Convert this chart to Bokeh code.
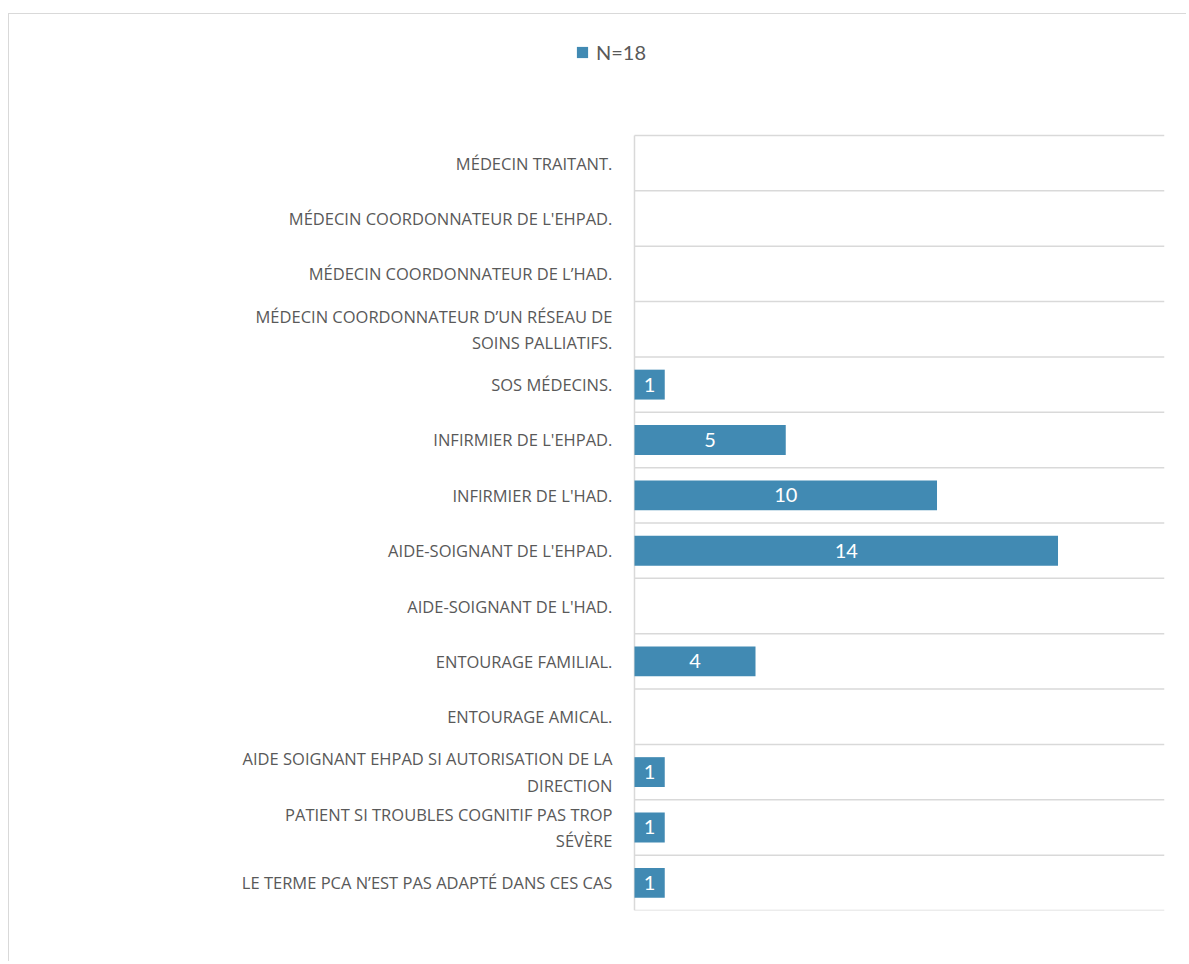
from bokeh.plotting import figure
from bokeh.models import ColumnDataSource, Range1d, Legend, LegendItem
from bokeh.embed import file_html
from bokeh.resources import INLINE
from bokeh.core.properties import value

categories = [
    "MÉDECIN TRAITANT.",
    "MÉDECIN COORDONNATEUR DE L'EHPAD.",
    "MÉDECIN COORDONNATEUR DE L’HAD.",
    "MÉDECIN COORDONNATEUR D’UN RÉSEAU DE\nSOINS PALLIATIFS.",
    "SOS MÉDECINS.",
    "INFIRMIER DE L'EHPAD.",
    "INFIRMIER DE L'HAD.",
    "AIDE-SOIGNANT DE L'EHPAD.",
    "AIDE-SOIGNANT DE L'HAD.",
    "ENTOURAGE FAMILIAL.",
    "ENTOURAGE AMICAL.",
    "AIDE SOIGNANT EHPAD SI AUTORISATION DE LA\nDIRECTION",
    "PATIENT SI TROUBLES COGNITIF PAS TROP\nSÉVÈRE",
    "LE TERME PCA N’EST PAS ADAPTÉ DANS CES CAS",
]
counts = [0, 0, 0, 0, 1, 5, 10, 14, 0, 4, 0, 1, 1, 1]
series_name = "N=18"

BAR = "#418AB3"
GRID = "#d9d9d9"
TXT = "#595959"

n = len(categories)
X_END = 17.52
ypos = [i + 0.5 for i in range(n)]
src = ColumnDataSource(dict(y=ypos, count=counts, label=categories))

lab_idx = [i for i, c in enumerate(counts) if c > 0]
val_src = ColumnDataSource(dict(
    y=[ypos[i] for i in lab_idx],
    mid=[counts[i] / 2 for i in lab_idx],
    txt=[str(counts[i]) for i in lab_idx],
))
bounds = list(range(n + 1))
grid_src = ColumnDataSource(dict(y=bounds))

p = figure(width=1178, height=948, output_backend="svg", toolbar_location=None,
           x_range=Range1d(-20.66, X_END), y_range=Range1d(n, -2.186),
           min_border_left=0, min_border_top=0, min_border_right=23, min_border_bottom=52,
           outline_line_color=None, margin=(13, 0, 0, 8),
           styles={"border-left": "1px solid #d9d9d9", "border-top": "1px solid #d9d9d9"})
p.axis.visible = False
p.grid.visible = False

# category gridlines and axis line
p.segment(x0=0, x1=X_END, y0="y", y1="y", source=grid_src, line_color=GRID, line_width=1.5)
p.segment(x0=0, x1=0, y0=bounds[0], y1=bounds[-1], line_color=GRID, line_width=1.5)

bars = p.hbar(y="y", left=0, right="count", height=0.54, source=src,
              fill_color=BAR, line_color=None)

# category labels
p.text(x=-0.73, y="y", text="label", source=src, text_align="right", text_baseline="middle",
       text_font=value("Open Sans"), text_font_size="16.5px", text_color=TXT,
       text_line_height=1.14)

# value labels
p.text(x="mid", y="y", text="txt", source=val_src, text_align="center", text_baseline="middle",
       text_font=value("Lato"), text_font_size="20px", text_color="white")

legend = Legend(items=[LegendItem(label=series_name, renderers=[bars])],
                location=(566, 846), orientation="horizontal",
                padding=0, margin=0, border_line_color=None, background_fill_alpha=0,
                glyph_width=14, glyph_height=14, label_standoff=7, label_height=24,
                label_text_font="Lato", label_text_font_size="20px", label_text_color=TXT)
p.add_layout(legend)

open("out.html", "w").write(file_html(p, INLINE))
